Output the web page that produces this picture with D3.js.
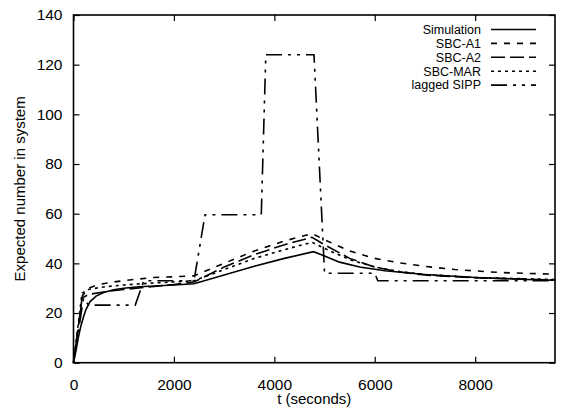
<!DOCTYPE html>
<html>
<head>
<meta charset="utf-8">
<script src="https://cdn.jsdelivr.net/npm/d3@7"></script>
<style>
    body { margin: 0; background: #fff; }
    text { font-family: "Liberation Sans", Arial, sans-serif; font-size: 15px; fill: #000; }
    .line { fill: none; stroke: #000; stroke-width: 1.6; }
</style>
</head>
<body>
<div class="container"></div>
<script>
const WIDTH = 565,
    HEIGHT = 412,
    LEFT = 73.5,
    RIGHT = 555,
    TOP = 15,
    BOTTOM = 362.7;

// data: [t (seconds), expected number]
const simulation = [[0, 0], [50, 5], [100, 10.5], [150, 15], [200, 18.5], [250, 21.5], [330, 24.6],
    [450, 26.8], [600, 28.3], [800, 29.4], [1000, 30], [1300, 30.6], [1700, 31], [2000, 31.3],
    [2400, 31.8], [3000, 35.3], [3600, 38.8], [4200, 42], [4780, 44.7], [5000, 43], [5300, 40.5],
    [5700, 38.5], [6200, 37], [7000, 35.5], [8000, 34.3], [9000, 33.5], [9600, 33.2]];
const sbcA1 = [[0, 0], [180, 27], [300, 30], [500, 31.5], [800, 32.5], [1200, 33.5], [1600, 34.3],
    [2000, 34.6], [2400, 35], [3000, 40], [3600, 45], [4200, 49], [4750, 52], [5000, 49.5],
    [5500, 45], [6000, 42], [6500, 40.2], [7000, 38.8], [7600, 37.5], [8500, 36.3], [9600, 35.6]];
const sbcA2 = [[0, 0], [170, 26], [300, 27.5], [600, 28.5], [1000, 29.5], [1500, 30.5], [2000, 31.5],
    [2400, 32.5], [3000, 38.5], [3600, 43.5], [4200, 47.5], [4750, 50.5], [5000, 47.5], [5500, 42],
    [6000, 38.5], [6500, 36.5], [7000, 35.3], [8000, 34.2], [9600, 33.3]];
const sbcMar = [[0, 0], [170, 28], [300, 29.5], [600, 30.5], [1000, 31.3], [1500, 32], [2000, 32.5],
    [2400, 33], [3000, 37.5], [3600, 42], [4200, 45.5], [4750, 48.5], [5000, 46], [5500, 41.5],
    [6000, 38.5], [6500, 36.7], [7000, 35.5], [8000, 34.3], [9600, 33.5]];
const laggedSipp = [[0, 0], [200, 26], [300, 23.2], [1230, 23.2], [1400, 33], [2400, 33],
    [2620, 59.6], [3740, 59.6], [3830, 124], [4790, 124], [5000, 36], [6000, 36], [6060, 33],
    [9600, 33]];

const seriesNames = ['Simulation', 'SBC-A1', 'SBC-A2', 'SBC-MAR', 'lagged SIPP'];
const seriesData = [simulation, sbcA1, sbcA2, sbcMar, laggedSipp];
const dashes = [null, '6,7', '14,5', '3,4', '16,6,3,6,3,6'];

const xTicks = [0, 2000, 4000, 6000, 8000];
const yTicks = [0, 20, 40, 60, 80, 100, 120, 140];

const xScale = d3.scaleLinear().domain([0, 9590]).range([LEFT, RIGHT]);
const yScale = d3.scaleLinear().domain([0, 140]).range([BOTTOM, TOP]);

var svg = d3.select('.container').append('svg')
    .attr('width', WIDTH)
    .attr('height', HEIGHT);

// ticks point inward, mirrored on top and right like gnuplot
var addAxis = (axis, transform, labels) => {
    var g = svg.append('g')
        .attr('transform', transform)
        .call(axis);
    g.select('.domain').remove();
    g.selectAll('line').attr('stroke', '#000').attr('stroke-width', 1.2);
    if (!labels) g.selectAll('text').remove();
    return g;
}

var fmt = d3.format('d');

var bx = addAxis(d3.axisBottom(xScale).tickValues(xTicks).tickFormat(fmt).tickSizeInner(-6),
    `translate(0,${BOTTOM})`, true);
bx.selectAll('text').attr('dy', '0.71em').attr('y', 16);
addAxis(d3.axisTop(xScale).tickValues(xTicks).tickSizeInner(-6), `translate(0,${TOP})`, false);
var ly = addAxis(d3.axisLeft(yScale).tickValues(yTicks).tickFormat(fmt).tickSizeInner(-6),
    `translate(${LEFT},0)`, true);
ly.selectAll('text').attr('x', -11);
addAxis(d3.axisRight(yScale).tickValues(yTicks).tickSizeInner(-6), `translate(${RIGHT},0)`, false);

svg.selectAll('.tick text')
    .style('font-family', '"Liberation Sans", Arial, sans-serif')
    .style('font-size', '15.5px');

var line = d3.line()
    .x(d => xScale(d[0]))
    .y(d => yScale(d[1]));

seriesData.forEach((data, i) => {
    svg.append('path')
        .classed('line', true)
        .attr('stroke-dasharray', dashes[i])
        .attr('d', line(data));
});

svg.append('rect')
    .attr('x', LEFT).attr('y', TOP)
    .attr('width', RIGHT - LEFT).attr('height', BOTTOM - TOP)
    .attr('fill', 'none').attr('stroke', '#000').attr('stroke-width', 1.6);

// legend
var legend = svg.append('g').attr('transform', 'translate(0,29.5)');
seriesNames.forEach((name, i) => {
    var y = i * 13.9;
    legend.append('text')
        .attr('x', 481).attr('y', y).attr('dy', '0.35em')
        .attr('text-anchor', 'end')
        .style('font-size', '12.5px')
        .text(name);
    legend.append('line')
        .classed('line', true)
        .attr('x1', 491).attr('x2', 536)
        .attr('y1', y).attr('y2', y)
        .attr('stroke-dasharray', dashes[i]);
});

svg.append('text')
    .attr('x', (LEFT + RIGHT) / 2).attr('y', 404)
    .attr('text-anchor', 'middle')
    .text('t (seconds)');

svg.append('text')
    .attr('transform', `translate(25,${(TOP + BOTTOM) / 2}) rotate(-90)`)
    .attr('text-anchor', 'middle')
    .text('Expected number in system');
</script>
</body>
</html>
